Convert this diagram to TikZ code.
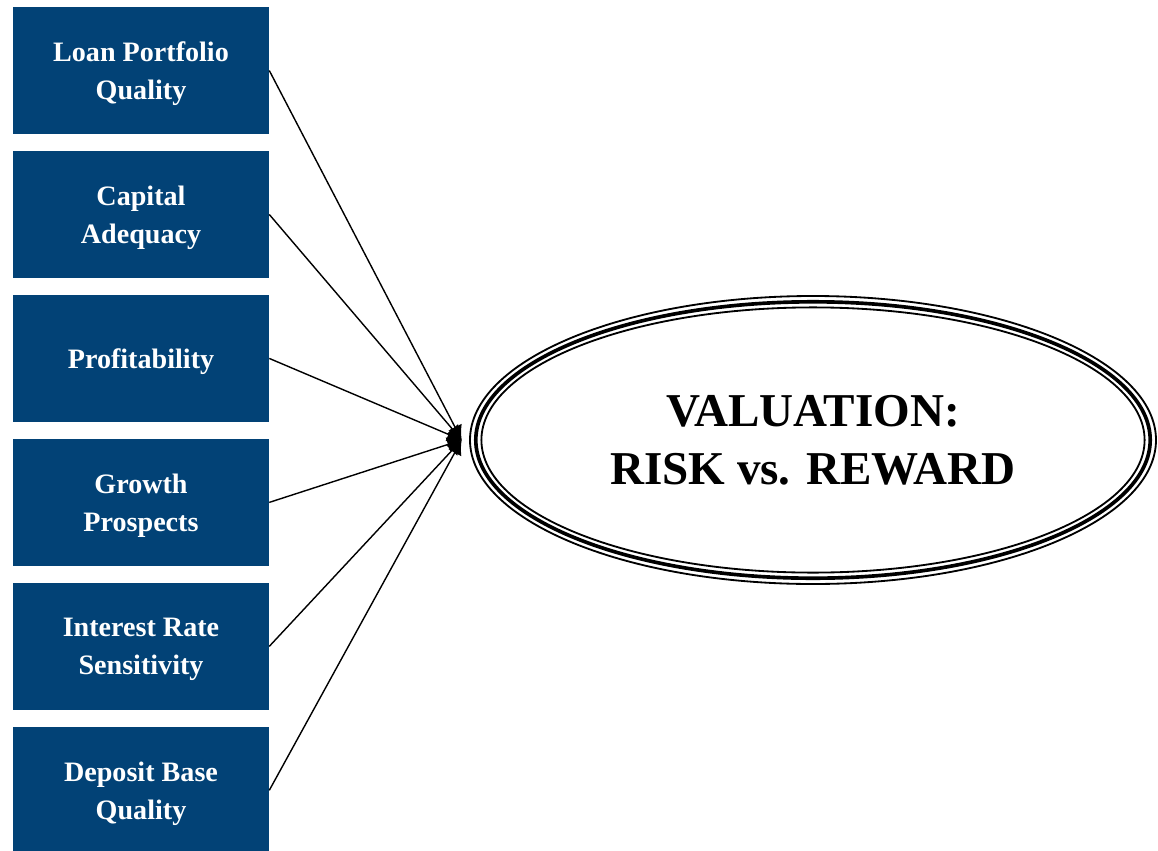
\documentclass[tikz,border=0pt]{standalone}
\usepackage{fontspec}
\setmainfont{Liberation Serif}
\usepackage{tikz}
\usetikzlibrary{shapes,arrows.meta,positioning}
\definecolor{boxblue}{RGB}{2,66,118}

\begin{document}
\begin{tikzpicture}
    \tikzstyle{main}=[rectangle, fill=boxblue, text=white, minimum width=6.4cm, minimum height=3.175cm, align=center, inner sep=0pt, font=\fontsize{20}{27}\selectfont\bfseries, text depth=-0.3cm, node distance=0.41cm]
    \tikzstyle{connect}=[-{Latex[length=3.6mm,width=3.8mm]}, line width=1pt]
    \tikzstyle{rim}=[line width=1.3pt]
    \useasboundingbox (0,0) rectangle (28.95,-21.275);
      \node[main] (loan) at (3.525,-1.7625) {Loan Portfolio\\Quality};
      \node[main] (capital) [below=of loan] {Capital\\Adequacy};
      \node[main] (profit) [below=of capital] {Profitability};
      \node[main] (growth) [below=of profit] {Growth\\Prospects};
      \node[main] (rate) [below=of growth] {Interest Rate\\Sensitivity};
      \node[main] (deposit) [below=of rate] {Deposit Base\\Quality};

      % valuation ellipse, three rims
      \node[ellipse, minimum width=17.15cm, minimum height=7.2cm, inner sep=0pt, align=center, font=\fontsize{33.5}{41}\selectfont\bfseries] (val) at (20.325,-11.0) {VALUATION:\\RISK vs. REWARD};
      \draw[rim] (val.center) ellipse (8.575 and 3.6);
      \draw[line width=2.6pt] (val.center) ellipse (8.43 and 3.455);
      \draw[rim] (val.center) ellipse (8.29 and 3.315);

      \coordinate (hub) at ([xshift=-0.2cm]val.west);
      \path (loan.east) edge [connect] (hub);
      \path (capital.east) edge [connect] (hub);
      \path (profit.east) edge [connect] (hub);
      \path (growth.east) edge [connect] (hub);
      \path (rate.east) edge [connect] (hub);
      \path (deposit.east) edge [connect] (hub);
    \end{tikzpicture}
\end{document}
